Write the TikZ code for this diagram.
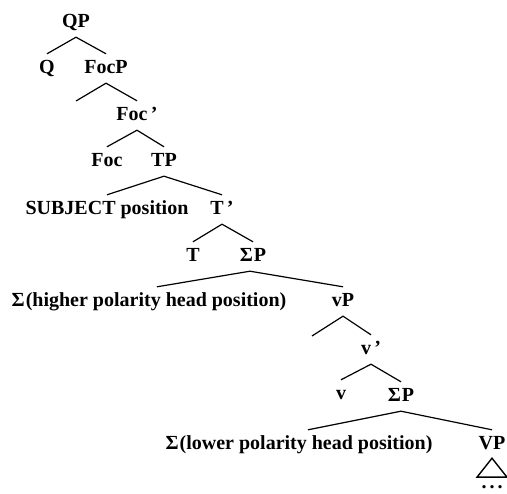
\documentclass[tikz,border=0pt]{standalone}
\usepackage{fontspec}
\setmainfont{Liberation Serif}
\begin{document}
\begin{tikzpicture}[x=1pt,y=1pt,
  lab/.style={anchor=base, font=\bfseries\fontsize{20}{22}\selectfont,
    inner xsep=0pt, inner ysep=9pt, text height=11pt, text depth=0pt},
  branch/.style={line width=1.2pt},
  tri/.style={line width=1.4pt, line join=miter}]
\useasboundingbox (0,0) rectangle (507,-494);
% nodes
\node[lab] (qp)    at (76,-28)   {QP};
\node[lab] (q)     at (47,-74)   {Q};
\node[lab] (focp)  at (106,-74)  {FocP};
\coordinate (focspec) at (76,-101);
\node[lab] (focbar) at (137,-121) {Foc\,’};
\node[lab] (foc)   at (107,-167) {Foc};
\node[lab] (tp)    at (164,-167) {TP};
\node[lab] (subj)  at (107,-215) {SUBJECT position};
\node[lab] (tbar)  at (222,-215) {T\,’};
\node[lab] (t)     at (193,-262) {T};
\node[lab] (sigp)  at (253,-262) {Σ\kern1ptP};
\node[lab] (sigA)  at (149,-307) {Σ\kern1pt(higher polarity head position)};
\node[lab] (vp)    at (343,-307) {vP};
\coordinate (vspec) at (312,-336);
\node[lab] (vbar)  at (371,-355) {v\,’};
\node[lab] (v)     at (341,-400) {v};
\node[lab] (sigp2) at (401,-402) {Σ\kern1ptP};
\node[lab] (sigB)  at (299,-450) {Σ\kern1pt(lower polarity head position)};
\node[lab] (VP)    at (492,-450) {VP};
\node[lab, inner ysep=0pt, text height=4pt] (dots) at (492,-489) {.\kern3pt.\kern3pt.};
% branches
\draw[branch] (q.north) -- (qp.south) -- (focp.north);
\draw[branch] (focspec) -- (focp.south) -- (focbar.north);
\draw[branch] (foc.north) -- (focbar.south) -- (tp.north);
\draw[branch] (subj.north) -- (tp.south) -- (tbar.north);
\draw[branch] (t.north) -- (tbar.south) -- (sigp.north);
\draw[branch] ([xshift=8pt]sigA.north) -- ([xshift=-3pt]sigp.south) -- (vp.north);
\draw[branch] (vspec) -- (vp.south) -- (vbar.north);
\draw[branch] (v.north) -- (vbar.south) -- (sigp2.north);
\draw[branch] ([xshift=9pt]sigB.north) -- (sigp2.south) -- (VP.north);
% triangle
\draw[tri] ([yshift=1pt]VP.south) -- ++(-15,-19) -- ++(30,0) -- cycle;
\end{tikzpicture}
\end{document}
